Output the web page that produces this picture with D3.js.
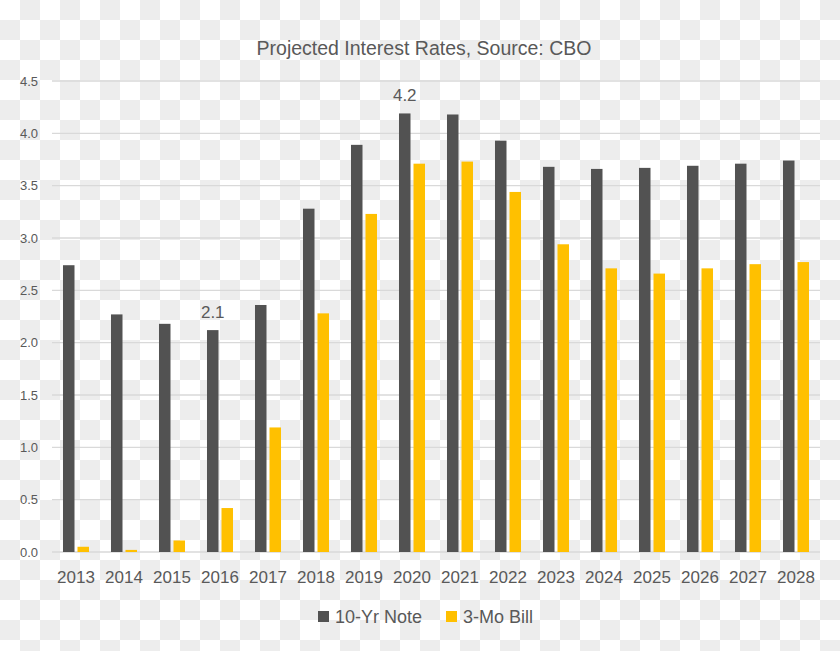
<!DOCTYPE html>
<html>
<head>
<meta charset="utf-8">
<script src="https://cdnjs.cloudflare.com/ajax/libs/d3/7.8.5/d3.min.js"></script>
<style>
  body { margin: 0; }
  svg { display: block; font-family: "Liberation Sans", Arial, sans-serif; }
</style>
</head>
<body>
<svg width="840" height="651"></svg>
<script>
// data
const years = ["2013", "2014", "2015", "2016", "2017", "2018", "2019", "2020",
               "2021", "2022", "2023", "2024", "2025", "2026", "2027", "2028"];
const note10 = [2.74, 2.27, 2.18, 2.12, 2.36, 3.28, 3.89, 4.19,
                4.18, 3.93, 3.68, 3.66, 3.67, 3.69, 3.71, 3.74];
const bill3 = [0.05, 0.02, 0.11, 0.42, 1.19, 2.28, 3.23, 3.71,
               3.73, 3.44, 2.94, 2.71, 2.66, 2.71, 2.75, 2.77];
const seriesNames = ["10-Yr Note", "3-Mo Bill"];
const yTicks = [0, 0.5, 1, 1.5, 2, 2.5, 3, 3.5, 4, 4.5];
const labelled = ["2016", "2020"]; // years with a value label on the 10-Yr bar

const colors = { "10-Yr Note": "#525252", "3-Mo Bill": "#ffc000" };
const textColor = "#595959";
const gridColor = "#d9d9d9";

const svg = d3.select("svg");
const W = +svg.attr("width"), H = +svg.attr("height");
const margin = { top: 81, right: 20, bottom: 99, left: 52 };
const width = W - margin.left - margin.right;
const height = H - margin.top - margin.bottom;

// checkerboard background (transparent image look)
const defs = svg.append("defs");
const pat = defs.append("pattern")
    .attr("id", "checker")
    .attr("width", 40).attr("height", 40)
    .attr("patternUnits", "userSpaceOnUse");
pat.append("rect").attr("width", 40).attr("height", 40).attr("fill", "#ffffff");
pat.append("rect").attr("x", 20).attr("y", 0).attr("width", 20).attr("height", 20).attr("fill", "#ededed");
pat.append("rect").attr("x", 0).attr("y", 20).attr("width", 20).attr("height", 20).attr("fill", "#ededed");
svg.append("rect").attr("width", W).attr("height", H).attr("fill", "url(#checker)");

const g = svg.append("g")
    .attr("transform", "translate(" + margin.left + "," + margin.top + ")");

const x0 = d3.scaleBand().domain(years).range([0, width])
    .paddingInner(0.458).paddingOuter(0.229);
const x1 = d3.scaleBand().domain(seriesNames).range([0, x0.bandwidth()]).paddingInner(0.207);
const y = d3.scaleLinear().domain([0, 4.5]).range([height, 0]);

// gridlines
g.append("g")
  .selectAll("line")
  .data(yTicks)
  .join("line")
    .attr("x1", 0).attr("x2", width)
    .attr("y1", d => y(d)).attr("y2", d => y(d))
    .attr("stroke", gridColor)
    .attr("stroke-width", 1.3);

// y axis labels
const yAxis = g.append("g")
    .call(d3.axisLeft(y).tickValues(yTicks).tickFormat(d3.format(".1f")).tickSize(0).tickPadding(14));
yAxis.select(".domain").remove();
yAxis.selectAll("text")
    .attr("fill", textColor)
    .style("font-size", "13px")
    .style("font-family", "'Liberation Sans', Arial, sans-serif");

// x axis labels
const xAxis = g.append("g")
    .attr("transform", "translate(0," + height + ")")
    .call(d3.axisBottom(x0).tickSize(0).tickPadding(19));
xAxis.select(".domain").remove();
xAxis.selectAll("text")
    .attr("fill", textColor)
    .style("font-size", "17px")
    .style("font-family", "'Liberation Sans', Arial, sans-serif");

// bars
const rows = years.map((yr, i) => ({
  year: yr,
  values: [{ key: seriesNames[0], value: note10[i] }, { key: seriesNames[1], value: bill3[i] }]
}));

const groups = g.append("g")
  .selectAll("g")
  .data(rows)
  .join("g")
    .attr("transform", d => "translate(" + x0(d.year) + ",0)");

groups.selectAll("rect")
  .data(d => d.values)
  .join("rect")
    .attr("x", d => x1(d.key))
    .attr("y", d => y(d.value))
    .attr("width", x1.bandwidth())
    .attr("height", d => height - y(d.value))
    .attr("fill", d => colors[d.key]);

// value labels on selected 10-Yr bars
g.append("g")
  .selectAll("text")
  .data(rows.filter(d => labelled.includes(d.year)))
  .join("text")
    .attr("x", d => x0(d.year) + x1(seriesNames[0]) + x1.bandwidth() / 2)
    .attr("y", d => y(d.values[0].value) - 12)
    .attr("text-anchor", "middle")
    .attr("fill", textColor)
    .style("font-size", "17px")
    .text(d => d3.format(".1f")(d.values[0].value));

// title
svg.append("text")
    .attr("x", 424)
    .attr("y", 55)
    .attr("text-anchor", "middle")
    .attr("fill", textColor)
    .style("font-size", "19.5px")
    .text("Projected Interest Rates, Source: CBO");

// legend
const legend = svg.append("g").attr("transform", "translate(318,611)");
const legX = [0, 128];
const item = legend.selectAll("g")
  .data(seriesNames)
  .join("g")
    .attr("transform", (d, i) => "translate(" + legX[i] + ",0)");
item.append("rect")
    .attr("width", 11).attr("height", 11)
    .attr("fill", d => colors[d]);
item.append("text")
    .attr("x", 17)
    .attr("y", 11.5)
    .attr("fill", textColor)
    .style("font-size", "18px")
    .text(d => d);
</script>
</body>
</html>
